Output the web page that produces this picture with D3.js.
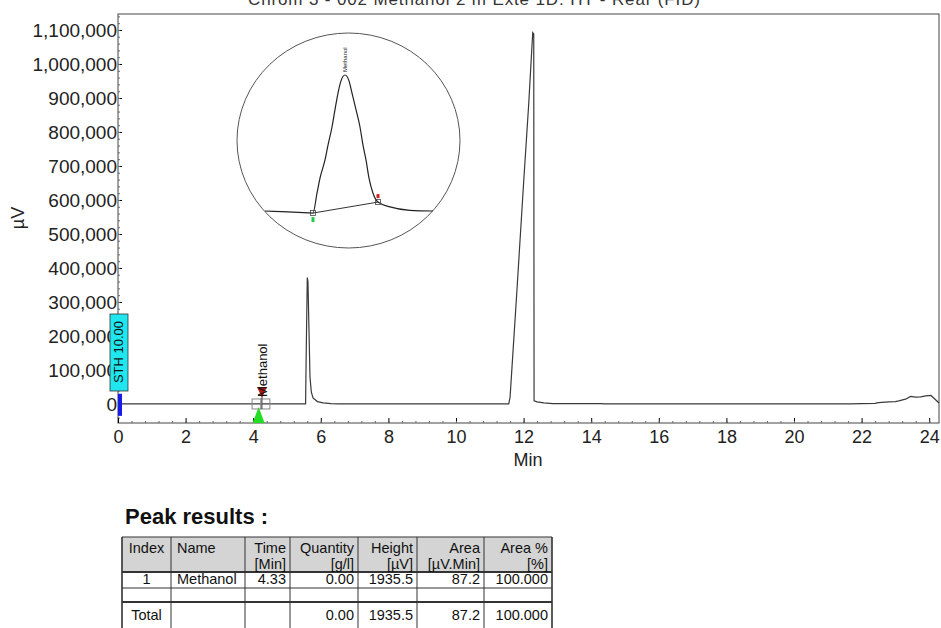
<!DOCTYPE html>
<html>
<head>
<meta charset="utf-8">
<script src="https://cdn.jsdelivr.net/npm/d3@7"></script>
<style>
  body { margin: 0; background: #fff; }
  svg text { font-family: "Liberation Sans", Arial, sans-serif; }
</style>
</head>
<body>
<div id="chart"></div>
<script>
// chromatogram trace (time in min, signal in µV)
const traceTime = [0, 5.55, 5.57, 5.60, 5.62, 5.65, 5.68, 5.72, 5.77, 5.9, 6.07, 6.3, 6.5,
    11.56, 11.60, 11.80, 12.00, 12.15, 12.27, 12.30, 12.31, 12.40, 12.60, 12.86,
    14.30, 14.40, 21.66, 22.00, 22.40, 22.50, 22.80, 23.00, 23.10, 23.30, 23.45, 23.60, 23.75, 23.90, 24.05, 24.15, 24.29];
const traceSignal = [0, 0, 160000, 372000, 360000, 220000, 79000, 35000, 18000, 7000, 3000, 1000, 0,
    0, 20000, 330000, 650000, 880000, 1092000, 1088000, 9000, 6000, 3000, 1000,
    1000, 0, 0, 1000, 2000, 4000, 6000, 7000, 9000, 14000, 22000, 20000, 21000, 24000, 25000, 16000, 3000];

// zoomed methanol peak in the circle
const insetTime = [3.85, 3.95, 4.05, 4.138, 4.162, 4.18, 4.21, 4.228, 4.252, 4.27, 4.288, 4.306, 4.33,
    4.354, 4.372, 4.396, 4.42, 4.438, 4.456, 4.474, 4.498, 4.528, 4.6, 4.72, 4.858];
const insetSignal = [0, -10, -20, -30, 260, 480, 745, 960, 1226, 1480, 1722, 1900, 1985,
    1900, 1722, 1480, 1226, 960, 745, 480, 260, 130, 60, 10, 0];
const peakStart = [4.138, -30];
const peakEnd = [4.528, 130];

const yTicks = [0, 100000, 200000, 300000, 400000, 500000, 600000, 700000, 800000, 900000, 1000000, 1100000];
const xTicks = [0, 2, 4, 6, 8, 10, 12, 14, 16, 18, 20, 22, 24];

// peak results table
const headTop = ["Index", "Name", "Time", "Quantity", "Height", "Area", "Area %"];
const headBottom = ["", "", "[Min]", "[g/l]", "[µV]", "[µV.Min]", "[%]"];
const rowPeak = ["1", "Methanol", "4.33", "0.00", "1935.5", "87.2", "100.000"];
const rowEmpty = ["", "", "", "", "", "", ""];
const rowTotal = ["Total", "", "", "0.00", "1935.5", "87.2", "100.000"];

const W = 941, H = 628;
const pLeft = 118, pRight = 939, pTop = 14, pBottom = 423;

const svg = d3.select("#chart").append("svg").attr("width", W).attr("height", H);

const x = d3.scaleLinear().domain([0, 24.29]).range([pLeft, pRight]);
const y = d3.scaleLinear().domain([-56000, 1147000]).range([pBottom, pTop]);

// title, cut at the top edge like in the printout
svg.append("text").attr("x", 248).attr("y", 5).attr("textLength", 452)
    .style("font-size", "17px").style("fill", "#333")
    .text("Chrom 3 - 002 Methanol 2 m Exte 1D: HT - Rear (FID)");

// frame
svg.append("rect").attr("x", pLeft).attr("y", pTop).attr("width", pRight - pLeft).attr("height", pBottom - pTop)
    .attr("fill", "none").attr("stroke", "#444").attr("stroke-width", 1);

// y axis
const yAxis = svg.append("g").attr("transform", "translate(" + pLeft + ",0)")
    .call(d3.axisLeft(y).tickValues(yTicks).tickSize(-4).tickPadding(1).tickFormat(d3.format(",")));
svg.append("g").attr("transform", "translate(" + pLeft + ",0)")
    .call(d3.axisLeft(y).tickValues(d3.range(-40000, 1140001, 20000)).tickSize(-2).tickFormat(""))
    .call(g => g.select(".domain").remove()).selectAll("line").attr("stroke", "#666");
yAxis.select(".domain").remove();
yAxis.selectAll("text").style("font-size", "19px").style("fill", "#222").attr("font-family", null);

// x axis
const xAxis = svg.append("g").attr("transform", "translate(0," + pBottom + ")")
    .call(d3.axisBottom(x).tickValues(xTicks).tickSize(-5).tickPadding(7));
svg.append("g").attr("transform", "translate(0," + pBottom + ")")
    .call(d3.axisBottom(x).tickValues(d3.range(0.4, 24.2, 0.4)).tickSize(-2).tickFormat(""))
    .call(g => g.select(".domain").remove()).selectAll("line").attr("stroke", "#666");
xAxis.select(".domain").remove();
xAxis.selectAll("text").style("font-size", "18px").style("fill", "#222").attr("font-family", null);

// axis titles
svg.append("text").attr("x", 528).attr("y", 466).attr("text-anchor", "middle")
    .style("font-size", "18px").style("fill", "#222").text("Min");
svg.append("text").attr("transform", "translate(24,218) rotate(-90)").attr("text-anchor", "middle")
    .style("font-size", "18px").style("fill", "#222").text("µV");

// trace
const line = d3.line().x((d, i) => x(traceTime[i])).y(d => y(d));
svg.append("path").datum(traceSignal).attr("d", line)
    .attr("fill", "none").attr("stroke", "#3a3a3a").attr("stroke-width", 1.2);

// STH event marker
svg.append("rect").attr("x", 110).attr("y", 314).attr("width", 18).attr("height", 77)
    .attr("fill", "#1fe6ef").attr("stroke", "#333").attr("stroke-width", 0.8);
svg.append("text").attr("transform", "translate(123,352) rotate(-90)").attr("text-anchor", "middle")
    .style("font-size", "13px").style("fill", "#111").text("STH 10.00");
svg.append("rect").attr("x", x(0)).attr("y", y(30000)).attr("width", 4).attr("height", y(-35000) - y(30000))
    .attr("fill", "#1a1ae8");

// methanol peak markers in main plot
[4.1, 4.36].forEach(t => {
    svg.append("rect").attr("x", x(t) - 4.5).attr("y", y(0) - 5).attr("width", 9).attr("height", 10)
        .attr("fill", "none").attr("stroke", "#888").attr("stroke-width", 1);
});
svg.append("line").attr("x1", x(4.26)).attr("x2", x(4.26)).attr("y1", y(40000)).attr("y2", y(-15000))
    .attr("stroke", "#555");
svg.append("path")
    .attr("d", "M" + x(4.16) + "," + (y(0) + 3) + "L" + (x(4.16) - 6) + "," + pBottom + "L" + (x(4.16) + 6) + "," + pBottom + "Z")
    .attr("fill", "#22dd22");
svg.append("path")
    .attr("d", "M" + (x(4.26) - 5) + "," + y(50000) + "L" + (x(4.26) + 5) + "," + y(50000) + "L" + x(4.26) + "," + y(18000) + "Z")
    .attr("fill", "#b01818");
svg.append("text").attr("transform", "translate(" + (x(4.33) + 3) + "," + 397 + ") rotate(-90)")
    .style("font-size", "13px").style("fill", "#111").text("Methanol");

// zoom circle
svg.append("ellipse").attr("cx", 348.5).attr("cy", 140.5).attr("rx", 111.5).attr("ry", 107.5)
    .attr("fill", "none").attr("stroke", "#555").attr("stroke-width", 1);
const ix = d3.scaleLinear().domain([3.85, 4.858]).range([265, 433]);
const iy = d3.scaleLinear().domain([0, 1985]).range([211, 75]);
const iline = d3.line().x((d, i) => ix(insetTime[i])).y(d => iy(d)).curve(d3.curveMonotoneX);
svg.append("path").datum(insetSignal).attr("d", iline)
    .attr("fill", "none").attr("stroke", "#222").attr("stroke-width", 1.2);
svg.append("line").attr("x1", ix(peakStart[0])).attr("y1", iy(peakStart[1]))
    .attr("x2", ix(peakEnd[0])).attr("y2", iy(peakEnd[1])).attr("stroke", "#333").attr("stroke-width", 1);
[peakStart, peakEnd].forEach(p => {
    svg.append("rect").attr("x", ix(p[0]) - 2.5).attr("y", iy(p[1]) - 2.5).attr("width", 5).attr("height", 5)
        .attr("fill", "none").attr("stroke", "#444").attr("stroke-width", 0.8);
});
svg.append("rect").attr("x", ix(peakStart[0]) - 1.5).attr("y", iy(peakStart[1]) + 4).attr("width", 3).attr("height", 5)
    .attr("fill", "#22cc44");
svg.append("rect").attr("x", ix(peakEnd[0]) - 1.5).attr("y", iy(peakEnd[1]) - 8).attr("width", 3).attr("height", 4)
    .attr("fill", "#cc2222");
svg.append("text").attr("transform", "translate(" + (ix(4.33) + 2) + "," + (iy(1985) - 3) + ") rotate(-90)")
    .style("font-size", "6px").style("fill", "#222").text("Methanol");

// peak results table
svg.append("text").attr("x", 125).attr("y", 524).style("font-size", "22px").style("font-weight", "bold")
    .style("fill", "#111").text("Peak results :");

const cols = [122, 171, 245, 290, 358, 417, 484, 552];
const tTop = 537, tHead = 572, tRow1 = 588, tRow2 = 602, tEnd = 640;
const table = svg.append("g");
table.append("rect").attr("x", cols[0]).attr("y", tTop).attr("width", cols[7] - cols[0]).attr("height", tHead - tTop)
    .attr("fill", "#d4d4d4");
[tTop, tHead, tRow1, tRow2].forEach((ly, i) => {
    table.append("line").attr("x1", cols[0]).attr("x2", cols[7]).attr("y1", ly).attr("y2", ly)
        .attr("stroke", "#333").attr("stroke-width", (i === 1 || i === 3) ? 2 : 1);
});
cols.forEach((cx, i) => {
    table.append("line").attr("x1", cx).attr("x2", cx).attr("y1", tTop).attr("y2", tEnd)
        .attr("stroke", "#333").attr("stroke-width", (i === 0 || i === 7) ? 1.6 : 1);
});
function cellText(row, ty) {
    row.forEach((t, i) => {
        let tx, anchor;
        if (i === 0) { tx = (cols[0] + cols[1]) / 2; anchor = "middle"; }
        else if (i === 1) { tx = cols[1] + 6; anchor = "start"; }
        else { tx = cols[i + 1] - 4; anchor = "end"; }
        table.append("text").attr("x", tx).attr("y", ty).attr("text-anchor", anchor)
            .style("font-size", "14.5px").style("fill", "#111").text(t);
    });
}
cellText(headTop, 553);
cellText(headBottom, 569);
cellText(rowPeak, 584);
cellText(rowEmpty, 598);
cellText(rowTotal, 620);
</script>
</body>
</html>
